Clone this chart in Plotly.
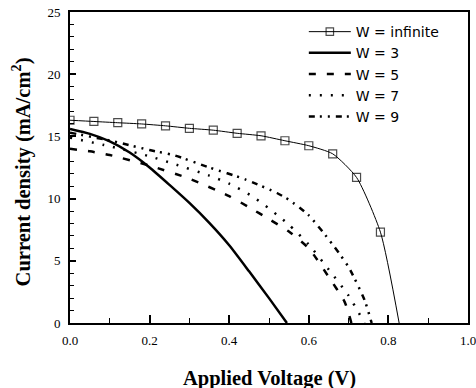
import plotly.graph_objects as go

# Data
x_inf = [0, 0.06, 0.12, 0.18, 0.24, 0.30, 0.36, 0.42, 0.48, 0.54, 0.60, 0.66, 0.72, 0.78, 0.827]
j_inf = [16.3, 16.2, 16.1, 16.0, 15.85, 15.65, 15.5, 15.25, 15.05, 14.65, 14.25, 13.6, 11.7, 7.3, 0]

x_w3 = [0, 0.05, 0.1, 0.15, 0.2, 0.25, 0.3, 0.35, 0.4, 0.45, 0.5, 0.545]
j_w3 = [15.6, 15.2, 14.6, 13.7, 12.5, 11.1, 9.65, 8.05, 6.25, 4.15, 2.0, 0]

x_w5 = [0, 0.05, 0.1, 0.2, 0.3, 0.4, 0.45, 0.5, 0.55, 0.6, 0.65, 0.69, 0.707]
j_w5 = [14.0, 13.8, 13.5, 12.65, 11.6, 10.2, 9.3, 8.35, 7.35, 6.0, 3.7, 1.7, 0]

x_w7 = [0, 0.1, 0.2, 0.26, 0.35, 0.4, 0.46, 0.52, 0.55, 0.6, 0.65, 0.7, 0.74]
j_w7 = [14.9, 14.2, 13.4, 12.8, 11.85, 11.2, 10.15, 8.7, 7.9, 6.3, 4.3, 2.2, 0]

x_w9 = [0, 0.11, 0.2, 0.26, 0.35, 0.44, 0.52, 0.55, 0.6, 0.66, 0.7, 0.74, 0.758]
j_w9 = [15.3, 14.6, 13.9, 13.5, 12.5, 11.55, 10.45, 9.9, 8.65, 6.3, 4.5, 1.85, 0]

labels = ["W = infinite", "W = 3", "W = 5", "W = 7", "W = 9"]
x_title = "<b>Applied Voltage (V)</b>"
y_title = "<b>Current density (mA/cm<sup>2</sup>)</b>"

fig = go.Figure()
msize = [8] * (len(x_inf) - 1) + [0]
fig.add_trace(go.Scatter(x=x_inf, y=j_inf, mode="lines+markers", name=labels[0],
                         line=dict(color="black", width=1, shape="spline", smoothing=0.6),
                         marker=dict(symbol="square-open", size=msize, color="black",
                                     line=dict(width=1.2, color="black"))))
fig.add_trace(go.Scatter(x=x_w3, y=j_w3, mode="lines", name=labels[1],
                         line=dict(color="black", width=2.5, shape="spline", smoothing=0.6)))
fig.add_trace(go.Scatter(x=x_w5, y=j_w5, mode="lines", name=labels[2],
                         line=dict(color="black", width=2.5, dash="7px,11px", shape="spline", smoothing=0.6)))
fig.add_trace(go.Scatter(x=x_w7, y=j_w7, mode="lines", name=labels[3],
                         line=dict(color="black", width=2.5, dash="2px,9px", shape="spline", smoothing=0.6)))
fig.add_trace(go.Scatter(x=x_w9, y=j_w9, mode="lines", name=labels[4],
                         line=dict(color="black", width=2.5, dash="6px,5px,2px,6px,2px,6px", shape="spline", smoothing=0.6)))

serif = "Liberation Serif"
fig.update_layout(
    width=476, height=388,
    margin=dict(l=70, r=8, t=12, b=65),
    paper_bgcolor="white", plot_bgcolor="white",
    showlegend=True,
    legend=dict(x=0.5875, y=0.987, xanchor="left", yanchor="top",
                bgcolor="rgba(0,0,0,0)", borderwidth=0,
                font=dict(family="DejaVu Sans", size=14, color="black"),
                tracegroupgap=0, itemwidth=42),
    xaxis=dict(range=[0, 1.0], dtick=0.2, tickformat=".1f", automargin=False,
               ticks="inside", ticklen=8, tickwidth=1.5, tickcolor="black",
               minor=dict(dtick=0.1, ticks="inside", ticklen=5, tickwidth=1.2, tickcolor="black"),
               showline=True, linecolor="black", linewidth=2, mirror=True,
               showgrid=False, zeroline=False,
               ticklabelstandoff=4, ticklabeloverflow="allow",
               tickfont=dict(family=serif, size=13, color="black")),
    yaxis=dict(range=[0, 25], dtick=5, automargin=False,
               ticks="inside", ticklen=6, tickwidth=1.5, tickcolor="black",
               minor=dict(dtick=1, ticks="inside", ticklen=4, tickwidth=1.2, tickcolor="black"),
               showline=True, linecolor="black", linewidth=2, mirror=True,
               showgrid=False, zeroline=False,
               ticklabelstandoff=5,
               tickfont=dict(family=serif, size=13, color="black")),
    annotations=[
        dict(text=x_title, xref="paper", yref="paper", x=0.5025, y=-0.177,
             xanchor="center", yanchor="middle", showarrow=False,
             font=dict(family=serif, size=20.5, color="black")),
        dict(text=y_title, xref="paper", yref="paper", x=-0.121, y=0.487,
             xanchor="center", yanchor="middle", showarrow=False, textangle=-90,
             font=dict(family=serif, size=20.5, color="black")),
    ],
)

fig.write_html("out.html", config={"displayModeBar": False},
               post_script="document.body.style.margin='0';")
